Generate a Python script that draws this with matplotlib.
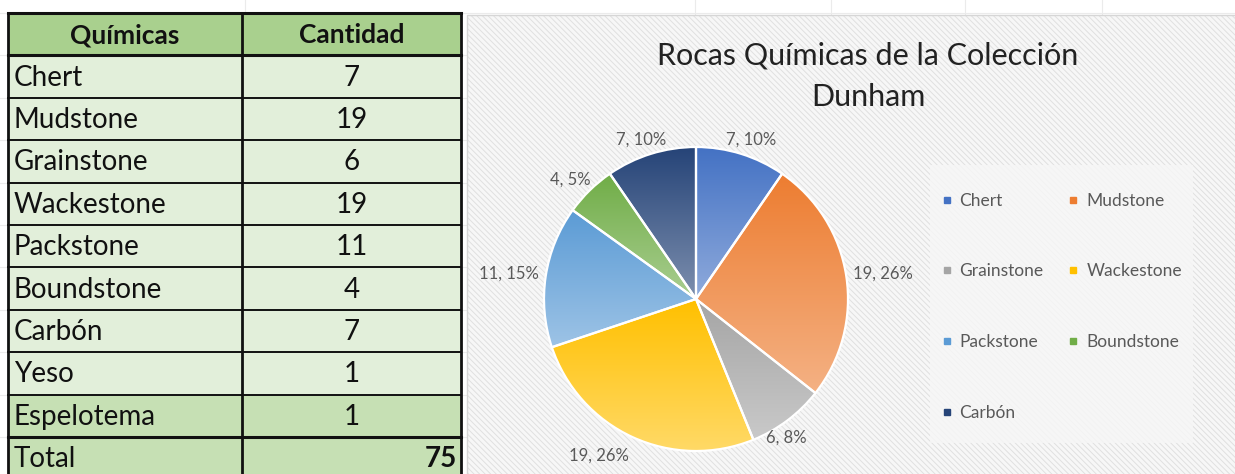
import numpy as np
import matplotlib
matplotlib.use('Agg')
import matplotlib.pyplot as plt
from matplotlib.patches import Rectangle
from matplotlib.lines import Line2D
from matplotlib.colors import to_rgb

plt.rcParams['font.family'] = ['Lato', 'DejaVu Sans']
plt.rcParams['hatch.linewidth'] = 0.7

# ---- data ----
header = ['Químicas', 'Cantidad']
table_names = ['Chert', 'Mudstone', 'Grainstone', 'Wackestone', 'Packstone',
               'Boundstone', 'Carbón', 'Yeso', 'Espelotema']
table_counts = [7, 19, 6, 19, 11, 4, 7, 1, 1]
total_label = 'Total'

pie_names = ['Chert', 'Mudstone', 'Grainstone', 'Wackestone', 'Packstone',
             'Boundstone', 'Carbón']
pie_counts = [7, 19, 6, 19, 11, 4, 7]
pie_colors = ['#4472C4', '#ED7D31', '#A5A5A5', '#FFC000', '#5B9BD5',
              '#70AD47', '#264478']
title = 'Rocas Químicas de la Colección\nDunham'

W, H = 1235, 474
fig = plt.figure(figsize=(W / 100, H / 100), dpi=100)
fig.patch.set_facecolor('white')

# full-figure axes in pixel coords (y down)
bg = fig.add_axes([0, 0, 1, 1])
bg.set_xlim(0, W)
bg.set_ylim(H, 0)
bg.axis('off')

# faint spreadsheet gridlines
row_h = 42.4
top = 13
for i in range(12):
    bg.plot([0, W], [top + i * row_h] * 2, color='#ebebeb', lw=0.8, zorder=0)
for x in [245, 695, 831, 965, 1102]:
    bg.plot([x, x], [0, H], color='#ebebeb', lw=0.8, zorder=0)

# ---- table ----
x0, xm, x1 = 8, 242, 461
n = len(table_names)
rows_y = [top + i * row_h for i in range(n + 3)]

def cell_row(y, fill):
    bg.add_patch(Rectangle((x0, y), x1 - x0, row_h, facecolor=fill,
                           edgecolor='none', zorder=2))

cell_row(rows_y[0], '#A9D08E')
for i, name in enumerate(table_names):
    fill = '#C6E0B4' if i == n - 1 else '#E2EFDA'
    cell_row(rows_y[i + 1], fill)
cell_row(rows_y[n + 1], '#C6E0B4')

tfs = 20
for txt, xc in zip(header, [(x0 + xm) / 2, (xm + x1) / 2]):
    bg.text(xc, rows_y[0] + row_h / 2 + 1, txt, ha='center', va='center',
            fontsize=tfs - 1, fontweight='bold', color='#111111', zorder=4)
for i, (name, cnt) in enumerate(zip(table_names, table_counts)):
    yc = rows_y[i + 1] + row_h / 2 + 1
    bg.text(x0 + 6, yc, name, ha='left', va='center', fontsize=tfs,
            color='#111111', zorder=4)
    bg.text((xm + x1) / 2, yc, str(cnt), ha='center', va='center',
            fontsize=tfs, color='#111111', zorder=4)
yc = rows_y[n + 1] + row_h / 2 + 1
bg.text(x0 + 6, yc, total_label, ha='left', va='center', fontsize=tfs,
        color='#111111', zorder=4)
bg.text(x1 - 4, yc, str(sum(table_counts)), ha='right', va='center',
        fontsize=tfs, fontweight='bold', color='#111111', zorder=4)

# borders
for i, y in enumerate(rows_y[:n + 2]):
    lw = 2.2 if i in (0, 1, n + 1) else 1.4
    bg.plot([x0, x1], [y, y], color='#111111', lw=lw, zorder=5)
for x in (x0, xm, x1):
    bg.plot([x, x], [top, H], color='#111111', lw=2.0, zorder=5)

# ---- chart area ----
bg.add_patch(Rectangle((467, 15), W - 467, H - 15, facecolor='#f7f7f7',
                       edgecolor='#e0e0e0', hatch='\\\\\\\\\\\\', lw=0,
                       zorder=1))
bg.plot([467, 467, W], [H, 15, 15], color='#d6d6d6', lw=1, zorder=1)
bg.add_patch(Rectangle((930, 165), 263, 278, facecolor='#f6f6f6',
                       edgecolor='none', alpha=0.85, zorder=2))

fig.text(868 / W, 1 - 76 / H, title, ha='center', va='center',
         fontsize=22, color='#222222', linespacing=1.6)

# ---- pie ----
cx, cy, R = 696, 299, 152
lim = 200 / R
ax = fig.add_axes([(cx - 200) / W, (H - cy - 200) / H, 400 / W, 400 / H])
ax.set_xlim(-lim, lim)
ax.set_ylim(-lim, lim)
ax.axis('off')

wedges, _ = ax.pie(pie_counts, colors=pie_colors, startangle=90,
                   counterclock=False,
                   wedgeprops=dict(edgecolor='white', linewidth=1.6))

for w, c in zip(wedges, pie_colors):
    bb = w.get_path().get_extents()
    base = np.array(to_rgb(c))
    light = base + (1 - base) * 0.4
    t = np.linspace(0, 1, 64)[:, None, None]
    grad = base * (1 - t) + light * t
    im = ax.imshow(grad, extent=(bb.x0, bb.x1, bb.y0, bb.y1), origin='upper',
                   aspect='auto', zorder=0.5, interpolation='bilinear')
    im.set_clip_path(w)
    w.set_facecolor('none')
    w.set_zorder(1)
ax.set_xlim(-lim, lim)
ax.set_ylim(-lim, lim)

total = sum(pie_counts)
texts = []
for w, v in zip(wedges, pie_counts):
    pct = round(100 * v / total)
    t = ax.text(0, 0, f'{v}, {pct}%', ha='center', va='center',
                fontsize=12, color='#595959')
    texts.append((w, t))

fig.canvas.draw()
rend = fig.canvas.get_renderer()
scale = 1 / R  # data units per pixel
for w, t in texts:
    ang = np.deg2rad((w.theta1 + w.theta2) / 2)
    ux, uy = np.cos(ang), np.sin(ang)
    bb = t.get_window_extent(rend)
    hw, hh = bb.width / 2 * scale, bb.height / 2 * scale
    gap = 1 + 7 * scale
    x = gap * ux + hw * ux
    y = gap * uy + hh * uy
    if uy < -0.5:
        # bottom labels sit a bit lower and further left
        x -= 18 * scale
        y -= 5 * scale
    t.set_position((x, y))

# ---- legend ----
order = [0, 2, 4, 6, 1, 3, 5]
handles = [Line2D([], [], marker='s', ls='none', markersize=5,
                  color=pie_colors[i]) for i in order]
labels = [pie_names[i] for i in order]
fig.legend(handles, labels, loc='upper left',
           bbox_to_anchor=(924 / W, 1 - 177 / H), ncol=2, frameon=False,
           fontsize=12.5, labelcolor='#595959', labelspacing=3.15,
           handlelength=0.8, handletextpad=0.35, columnspacing=1.3)

fig.savefig('out.png', dpi=100)
